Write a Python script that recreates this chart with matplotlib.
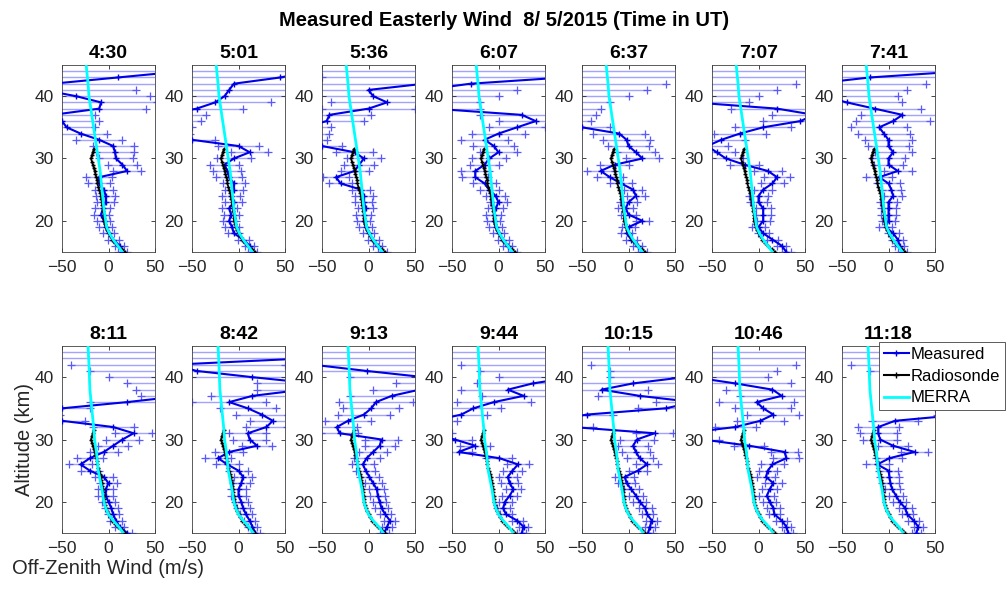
import numpy as np
import matplotlib
matplotlib.use('Agg')
from matplotlib import pyplot as plt
from matplotlib.lines import Line2D

plt.rcParams['font.family'] = ['Liberation Sans', 'DejaVu Sans']

### data

times = ['4:30', '5:01', '5:36', '6:07', '6:37', '7:07', '7:41',
         '8:11', '8:42', '9:13', '9:44', '10:15', '10:46', '11:18']

# measured altitudes (km), 1 km steps
alt = list(range(15, 45))

# measured easterly wind (m/s) per time, 15..44 km
w0430 = [15, 12, 5, 0, -3, -5, -8, -6, -3, -3, -5, -10, -10, 20, 15, 8, 7, 5, -10, -30,
         -45, -50, -60, -10, -8, -35, -70, -60, 10, 80]
w0501 = [15, 12, 5, -5, -7, -10, -8, -10, -5, -8, -5, -5, -10, -12, -15, -5, 12, 0, -50, -80,
         -80, -80, -80, -45, -25, -15, -10, -5, 45, 80]
w0536 = [15, 10, 5, 0, -3, -5, -5, -3, -5, -5, -8, -30, -35, -15, -10, -5, -15, -50, -70, -70,
         -70, -45, -42, 0, 20, 5, 0, 60, 90, 90]
w0607 = [15, 10, 5, 0, -3, -5, -5, -3, 0, -3, -10, -15, -25, -25, -15, -10, 0, -5, -15, 0,
         20, 40, 25, -70, -80, -80, -80, -30, 70, 90]
w0637 = [15, 10, 3, -2, 0, 15, 0, -3, 0, 8, 5, -8, -20, -30, -15, 15, 8, 0, -2, -10,
         -50, -80, -80, -80, -80, -80, -80, -80, -80, -80]
w0707 = [30, 25, 15, 5, 0, 5, 5, 5, 0, 0, 5, 15, 20, 10, -15, -35, -45, -55, -40, -20,
         5, 45, 60, 20, -70, -80, -80, -80, -80, -80]
w0741 = [15, 12, 10, 5, -3, 0, 0, 0, 0, 5, 3, 0, -10, 10, 0, 0, 5, 0, 0, -5,
         -10, 5, 15, -15, -45, -70, -80, -80, -20, 80]
w0811 = [20, 12, 8, 5, 3, 0, -3, -3, 0, -5, -20, -30, -20, -5, 5, 15, 27, 5, -50, -80,
         -50, 20, 80, 80, 80, 80, 80, 80, 80, 80]
w0842 = [18, 15, 12, 8, 5, 3, 0, 0, 3, 5, 0, -12, -22, -10, 20, 12, 10, 30, 37, 25,
         10, -10, 15, 70, 80, 15, -45, -70, 70, 80]
w0913 = [17, 20, 23, 18, 14, 12, 10, 9, 5, 1, -3, -6, -2, 5, 12, 14, -31, -34, -22, -5,
         3, 8, 25, 55, 90, 60, -2, -60, -80, -80]
w0944 = [25, 27, 20, 8, 5, 7, 12, 16, 12, 10, 15, 21, 1, -43, -25, -47, -70, -80, -70, -40,
         -27, -5, 27, 10, 37, 80, 80, 80, 80, 80]
w1015 = [21, 23, 25, 20, 18, 12, 8, 3, -2, -4, 10, 20, 12, 8, 5, 9, 28, -60, -80, -45,
         40, 70, 12, -29, 5, 60, 80, 80, 80, 80]
w1046 = [32, 30, 25, 17, 16, 12, 9, 12, 16, 8, 10, 15, 30, 28, -10, -60, -80, -25, 2, 16,
         5, -2, 25, 15, -25, -70, -80, -80, -80, -80]
w1118 = [30, 32, 27, 20, 18, 12, 8, 4, 2, 1, 0, -12, 1, 28, 5, -9, -11, -11, 7, 80,
         80, 80, 80, 80, 80, 80, 80, 80, 80, 80]

measured = [w0430, w0501, w0536, w0607, w0637, w0707, w0741,
            w0811, w0842, w0913, w0944, w1015, w1046, w1118]

# 1-sigma uncertainty of the measurement (m/s), 15..44 km
err = [5, 5, 6, 6, 7, 7, 8, 8, 9, 10, 10, 12, 14, 15, 16, 18, 20, 22, 25, 28,
       30, 40, 45, 50, 60, 80, 100, 120, 140, 160]

# radiosonde
sonde_alt = [15.0, 15.5, 16.0, 16.5, 17.0, 17.5, 18.0, 18.5, 19.0, 19.5, 20.0, 20.5,
             21.0, 21.5, 22.0, 22.5, 23.0, 23.5, 24.0, 24.5, 25.0, 25.5, 26.0, 26.5,
             27.0, 27.5, 28.0, 28.5, 29.0, 29.5, 30.0, 30.5, 31.0, 31.5]
sonde_wind = [18, 14, 10, 7, 4, 2, 0, -2, -3, -4, -5, -5, -5, -6, -6, -7, -7, -8,
              -8, -9, -10, -11, -12, -12, -13, -14, -15, -16, -17, -18, -19, -18, -17, -16]

# MERRA
merra_alt = [15, 16, 17, 18, 19, 20, 22, 25, 28, 30, 32, 35, 38, 40, 42, 45]
merra_early = [15, 10, 5, 1, -2, -3, -5, -7, -9, -11, -13, -16, -19, -21, -22, -24]
merra_late = [16, 11, 5, 0, -3, -5, -7, -11, -13, -15, -16, -18, -20, -20.5, -21, -22]

### plot

W, H = 1008, 590
fig = plt.figure(figsize=(W / 100, H / 100), dpi=100)

tick_col = '#262626'
meas_col = '#0000e6'

for i, t in enumerate(times):
    row, col = divmod(i, 7)
    left = (62 + 130 * col) / W
    top = 65 if row == 0 else 346
    ax = fig.add_axes([left, 1 - (top + 187) / H, 93 / W, 187 / H])

    w = np.array(measured[i], dtype=float)
    a = np.array(alt, dtype=float)
    e = np.array(err, dtype=float)

    # error bars
    for xv, yv, ev in zip(w, a, e):
        ax.plot([xv - ev, xv + ev], [yv, yv], color=(0.55, 0.55, 1.0), lw=1, alpha=0.8, zorder=1)
    ax.plot(np.concatenate([w - e, w + e]), np.concatenate([a, a]), '+', color=(0.35, 0.35, 1.0),
            ms=6, mew=0.9, ls='none', zorder=2)

    ax.plot(w, a, '-+', color=meas_col, lw=1.5, ms=4, mew=1, zorder=3)
    ax.plot(sonde_wind, sonde_alt, '-+', color='black', lw=1, ms=3, mew=1, zorder=4)
    merra = merra_early if i < 7 else merra_late
    ax.plot(merra, merra_alt, '-', color='#00ffff', lw=2, zorder=5)

    ax.set_xlim(-50, 50)
    ax.set_ylim(15, 45)
    ax.set_xticks([-50, 0, 50])
    ax.set_yticks([20, 30, 40])
    ax.tick_params(direction='in', length=3, width=0.6, top=True, right=True,
                   labelsize=12.5, colors=tick_col, labelcolor=tick_col, pad=6)
    for s in ax.spines.values():
        s.set_color('#404040')
        s.set_linewidth(0.6)
    ax.set_title(t, fontsize=14, fontweight='bold', pad=5)

    if i == 7:
        ax.set_ylabel('Altitude (km)', fontsize=14.5, color=tick_col, labelpad=0)
        ax.set_xlabel('Off-Zenith Wind (m/s)', fontsize=14.5, color=tick_col, labelpad=2)

fig.text(0.5, 1 - 20 / H, 'Measured Easterly Wind  8/ 5/2015 (Time in UT)',
         ha='center', va='center', fontsize=14.5, fontweight='bold')

handles = [Line2D([], [], color=meas_col, lw=1.5, marker='+', ms=5),
           Line2D([], [], color='black', lw=1.5, marker='+', ms=5),
           Line2D([], [], color='#00ffff', lw=2)]
leg = fig.legend(handles, ['Measured', 'Radiosonde', 'MERRA'], loc='upper right',
                 bbox_to_anchor=(1005 / W, 1 - 342 / H), fontsize=12, fancybox=False,
                 framealpha=1, edgecolor='#404040', borderpad=0.3, labelspacing=0.4,
                 handlelength=1.5, handletextpad=0.1, borderaxespad=0)
leg.get_frame().set_linewidth(0.6)

fig.savefig('out.png', dpi=100)
